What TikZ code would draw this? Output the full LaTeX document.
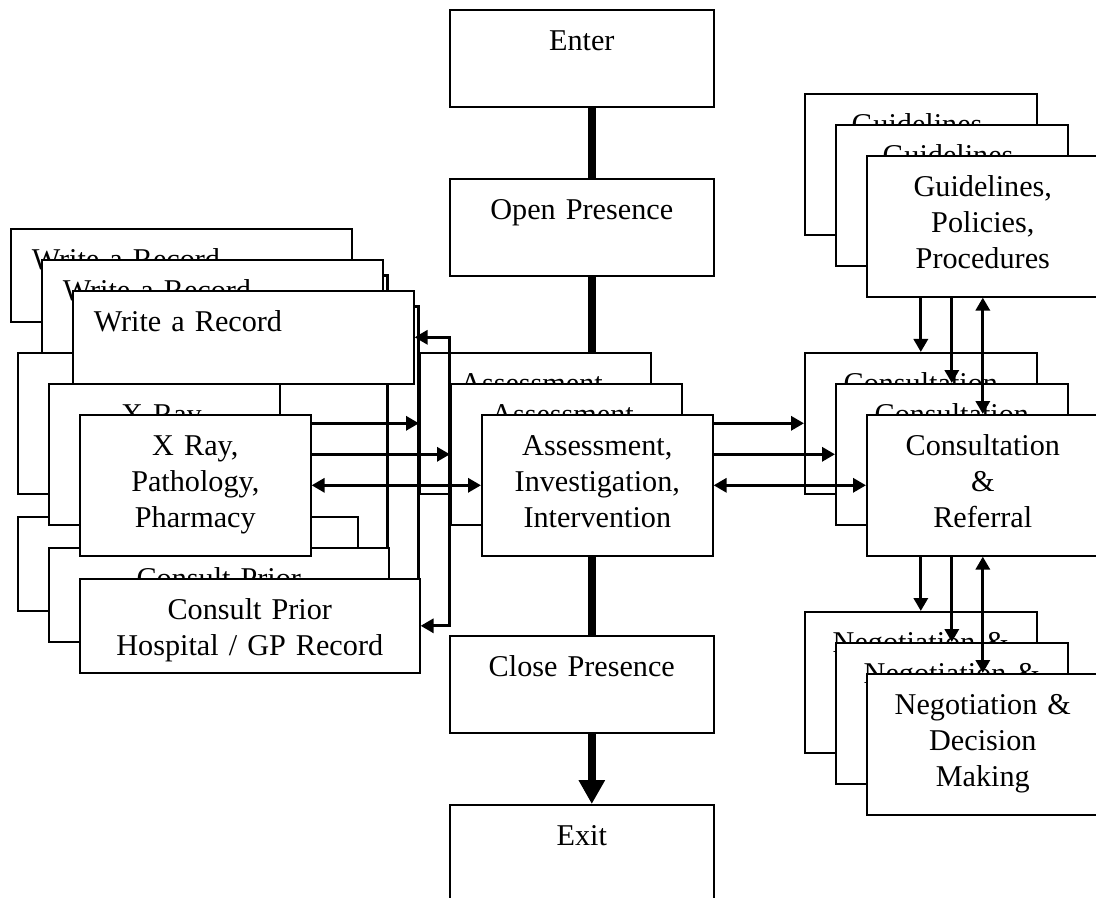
\documentclass[tikz,border=0pt]{standalone}
\usepackage{fontspec}
\setmainfont{Liberation Serif}
\usetikzlibrary{arrows.meta}

\tikzset{
  box/.style 2 args={draw, line width=0.8pt, fill=white, anchor=north west,
    inner xsep=4pt, inner ysep=0pt, text width=#1*0.5pt-8pt, align=center,
    text height=20.5pt, text depth=#2*0.5pt-20.5pt},
  recbox/.style={box={341}{93}, align=left, inner xsep=10.5pt, text width=149.5pt},
  link/.style={line width=1.6pt},
  spine/.style={line width=4pt}
}

\begin{document}
\begin{tikzpicture}[x=0.5pt, y=-0.5pt, >={Triangle[width=7pt,length=6.5pt]},
  every node/.style={font=\fontsize{15.1}{18}\selectfont}]
\useasboundingbox (0,0) rectangle (1096,898);

% three stacked copies, back to front
\foreach \k in {0,1,2} {
  \begin{scope}[shift={(31*\k,31*\k)}]
  \node[recbox] (wr\k) at (10,228) {Write a Record};
  \node[box={231}{141}] (xr\k) at (17,352) {X Ray,\\Pathology,\\Pharmacy};
  \node[box={340}{94}] (cp\k) at (17,516) {Consult Prior\\Hospital / GP Record};
  \node[box={231}{141}] (as\k) at (419,352) {Assessment,\\Investigation,\\Intervention};
  \node[box={232}{141}] (gd\k) at (804,93) {Guidelines,\\Policies,\\Procedures};
  \node[box={232}{141}] (cr\k) at (804,352) {Consultation\\\&\\Referral};
  \node[box={232}{141}] (ng\k) at (804,611) {Negotiation \&\\Decision\\Making};
  \draw[link, <->] (wr\k.east) -- ++(35,0) |- (cp\k.east);
  \draw[link, <->] (xr\k) -- (as\k);
  \draw[link, <->] (as\k) -- (cr\k);
  \draw[link, <->] (gd\k) -- (cr\k);
  \draw[link, <->] (cr\k) -- (ng\k);
  \end{scope}
}

% main flow
\node[box={264}{97}] (enter) at (449,9) {Enter};
\node[box={264}{97}] (open) at (449,178) {Open Presence};
\node[box={264}{97}] (close) at (449,635) {Close Presence};
\node[box={264}{97}] (exit) at (449,804) {Exit};
\draw[spine] ([xshift=5pt]enter.south) -- ([xshift=5pt]open.north);
\draw[spine] ([xshift=5pt]open.south) -- ([xshift=5pt]open.south |- as0.north);
\draw[spine] ([xshift=5pt]close.north |- as2.south) -- ([xshift=5pt]close.north);
\draw[spine, -{Triangle[width=12.5pt,length=12pt]}] ([xshift=5pt]close.south) -- ([xshift=5pt]exit.north);
\end{tikzpicture}
\end{document}
